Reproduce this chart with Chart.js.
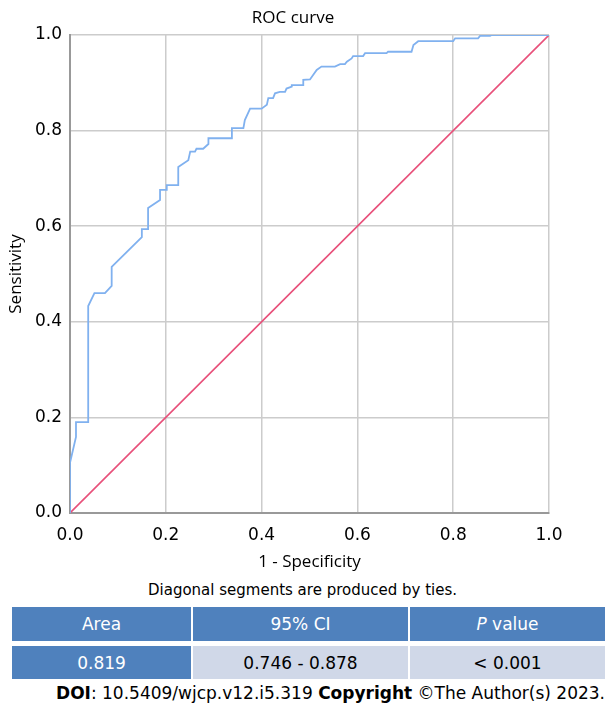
<!DOCTYPE html>
<html>
<head>
<meta charset="utf-8">
<script src="https://cdn.jsdelivr.net/npm/chart.js@4.4.1/dist/chart.umd.min.js"></script>
<style>
  html, body { margin: 0; padding: 0; background: #fff; }
  body { width: 605px; height: 707px; position: relative; overflow: hidden; font-family: "DejaVu Sans", Verdana, sans-serif; }
  #wrap { position: absolute; left: 0; top: 0; width: 605px; height: 576px; }
  .ttl { position: absolute; left: 0; width: 586px; top: 5px; text-align: center; font-family: "Open Sans", sans-serif; font-size: 17px; line-height: 24px; color: #000; }
  .note { position: absolute; left: 0; width: 605px; top: 580px; text-align: center; font-size: 15px; color: #000; line-height: 20px; }
  .cell { position: absolute; display: flex; align-items: center; justify-content: center; font-size: 17px; }
  .hd { background: #4f81bd; color: #fff; }
  .b1 { background: #4f81bd; color: #fff; }
  .b2 { background: #d0d8e8; color: #000; }
  .doi { position: absolute; left: 0; width: 605px; top: 682px; text-align: right; font-size: 17px; line-height: 22px; white-space: nowrap; }
</style>
</head>
<body>
<div id="wrap"><canvas id="c" width="605" height="576"></canvas></div>
<div class="ttl">ROC curve</div>
<div class="note">Diagonal segments are produced by ties.</div>
<div class="cell hd" style="left:12px;top:607px;width:179px;height:34px;">Area</div>
<div class="cell hd" style="left:193px;top:607px;width:215px;height:34px;">95% CI</div>
<div class="cell hd" style="left:410px;top:607px;width:195px;height:34px;"><i>P</i>&nbsp;value</div>
<div class="cell b1" style="left:12px;top:646px;width:179px;height:33px;">0.819</div>
<div class="cell b2" style="left:193px;top:646px;width:215px;height:33px;">0.746 - 0.878</div>
<div class="cell b2" style="left:410px;top:646px;width:195px;height:33px;">&lt; 0.001</div>
<div class="doi"><b>DOI</b>: 10.5409/wjcp.v12.i5.319 <b>Copyright</b> ©The Author(s) 2023.</div>
<script>
// ROC curve: 1 - Specificity (x) and Sensitivity (y)
const rocFpr = [0, 0, 0.0125, 0.0125, 0.038, 0.038, 0.051, 0.073, 0.087, 0.087, 0.150, 0.150, 0.163, 0.163, 0.188, 0.188, 0.202, 0.202, 0.226, 0.226, 0.247, 0.251, 0.261, 0.264, 0.278, 0.289, 0.289, 0.338, 0.338, 0.362, 0.365, 0.376, 0.400, 0.411, 0.414, 0.424, 0.428, 0.438, 0.449, 0.452, 0.463, 0.463, 0.487, 0.487, 0.501, 0.515, 0.525, 0.553, 0.564, 0.574, 0.578, 0.588, 0.591, 0.612, 0.616, 0.661, 0.664, 0.713, 0.717, 0.727, 0.800, 0.804, 0.852, 0.856, 0.877, 0.880, 1.0];
const rocTpr = [0, 0.105, 0.159, 0.190, 0.190, 0.433, 0.460, 0.460, 0.475, 0.515, 0.577, 0.594, 0.594, 0.638, 0.655, 0.676, 0.676, 0.686, 0.686, 0.724, 0.738, 0.756, 0.756, 0.762, 0.762, 0.772, 0.784, 0.784, 0.805, 0.805, 0.822, 0.846, 0.846, 0.854, 0.868, 0.868, 0.878, 0.881, 0.881, 0.888, 0.892, 0.895, 0.895, 0.906, 0.907, 0.927, 0.934, 0.934, 0.939, 0.939, 0.944, 0.951, 0.956, 0.956, 0.962, 0.962, 0.965, 0.965, 0.979, 0.987, 0.987, 0.993, 0.993, 0.998, 0.998, 1.0, 1.0];
const refX = [0, 1];
const refY = [0, 1];
const tickValues = [0, 0.2, 0.4, 0.6, 0.8, 1.0];

const rocData = rocFpr.map((x, i) => ({ x: x, y: rocTpr[i] }));
const refData = refX.map((x, i) => ({ x: x, y: refY[i] }));

const FONT = "'DejaVu Sans', Verdana, sans-serif";
const TFONT = "'Open Sans', sans-serif";

new Chart(document.getElementById('c'), {
  type: 'scatter',
  data: {
    datasets: [
      { label: 'ROC', data: rocData, showLine: true, borderColor: '#80b1ef', borderWidth: 1.8, pointRadius: 0, fill: false, tension: 0 },
      { label: 'Reference', data: refData, showLine: true, borderColor: '#e8507a', borderWidth: 1.6, pointRadius: 0, fill: false }
    ]
  },
  options: {
    responsive: false,
    animation: false,
    layout: { padding: { left: 0, right: 56, top: 35, bottom: 0 } },
    plugins: {
      legend: { display: false },
      tooltip: { enabled: false },
      title: { display: false }
    },
    scales: {
      x: {
        type: 'linear', min: 0, max: 1,
        afterBuildTicks: s => { s.ticks = tickValues.map(v => ({ value: v })); },
        afterFit: s => { s.height = 63; },
        ticks: { callback: v => Number(v).toFixed(1), color: '#000', font: { family: FONT, size: 17 }, padding: 12, maxRotation: 0 },
        grid: { color: '#cccccc', lineWidth: 1.5, drawTicks: false },
        border: { color: '#999999', width: 2 },
        title: { display: true, text: '1 - Specificity', color: '#000', font: { family: TFONT, size: 17 }, padding: { top: 4, bottom: 4 } }
      },
      y: {
        type: 'linear', min: 0, max: 1,
        afterBuildTicks: s => { s.ticks = tickValues.map(v => ({ value: v })); },
        afterFit: s => { s.width = 70; },
        ticks: { callback: v => Number(v).toFixed(1), color: '#000', font: { family: FONT, size: 17 }, padding: 8 },
        grid: { color: '#cccccc', lineWidth: 1.5, drawTicks: false },
        border: { color: '#999999', width: 2 },
        title: { display: true, text: 'Sensitivity', color: '#000', font: { family: TFONT, size: 17 }, padding: { top: 6, bottom: 4 } }
      }
    }
  }
});
</script>
</body>
</html>
